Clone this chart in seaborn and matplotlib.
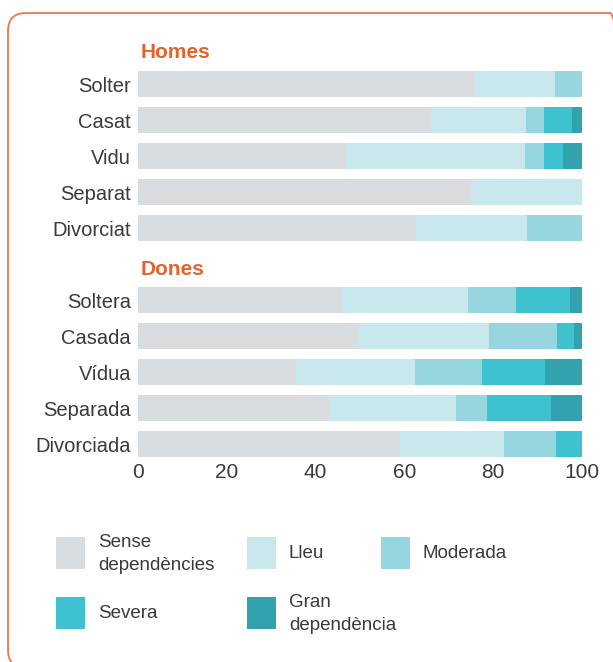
import numpy as np
import pandas as pd
import matplotlib
matplotlib.use("Agg")
import matplotlib.pyplot as plt
from matplotlib.patches import FancyBboxPatch, Rectangle
from matplotlib.transforms import IdentityTransform
import seaborn as sns

# ─── Data (percentages) ──────────────────────────────────────────────────────
homes = ["Solter", "Casat", "Vidu", "Separat", "Divorciat"]
dones = ["Soltera", "Casada", "Vídua", "Separada", "Divorciada"]
estats = homes + dones

sense    = [75.9, 66.0, 46.8, 75.0, 62.6, 45.9, 49.5, 35.6, 43.0, 59.0]
lleu     = [18.0, 21.4, 40.4, 25.0, 25.0, 28.4, 29.6, 26.8, 28.6, 23.4]
moderada = [6.1, 4.0, 4.2, 0.0, 12.4, 10.8, 15.3, 15.1, 7.0, 11.7]
severa   = [0.0, 6.3, 4.3, 0.0, 0.0, 12.2, 3.8, 14.2, 14.4, 5.9]
gran     = [0.0, 2.3, 4.3, 0.0, 0.0, 2.7, 1.8, 8.3, 7.0, 0.0]

nivells = ["Sense\ndependències", "Lleu", "Moderada", "Severa", "Gran\ndependència"]
colors  = ["#d9dde0", "#c9e8ed", "#97d6df", "#3ec2cf", "#32a3ae"]
xticks  = [0, 20, 40, 60, 80, 100]

TEXT   = "#3a3a3a"
ORANGE = "#e4632b"
W, H = 613, 662

# ─── Style ────────────────────────────────────────────────────────────────────
sns.set_style("white")
plt.rcParams["font.family"] = ["Liberation Sans", "DejaVu Sans"]

df = pd.DataFrame({"estat": estats, "sense": sense, "lleu": lleu,
                   "moderada": moderada, "severa": severa, "gran": gran})
cols = ["sense", "lleu", "moderada", "severa", "gran"]
cum = df[cols].cumsum(axis=1)

order = homes + [" "] + dones   # blank slot separates the two groups

fig = plt.figure(figsize=(W / 100, H / 100), dpi=100)

def fx(x):
    return x / W

def fy(y):
    return 1 - y / H

ax = fig.add_axes([fx(138), fy(462), fx(582) - fx(138), (462 - 66) / H])

# stacked bars: draw the cumulative totals from the longest down
for col, c in zip(reversed(cols), reversed(colors)):
    sns.barplot(x=cum[col], y=df["estat"], order=order, color=c,
                width=0.72, orient="h", ax=ax, saturation=1, linewidth=0)

ax.set_xlim(0, 100)
ax.set_xticks(xticks)
ax.set_xlabel("")
ax.set_ylabel("")
sns.despine(ax=ax, left=True, bottom=True)
ax.tick_params(axis="y", length=0, labelsize=14.5, colors=TEXT, pad=5)
ax.tick_params(axis="x", length=0, labelsize=15, colors=TEXT, pad=1)

ax.text(0.6, -0.88, "Homes", color=ORANGE, fontsize=15, fontweight="bold",
        ha="left", va="center")
ax.text(0.6, 5.15, "Dones", color=ORANGE, fontsize=15, fontweight="bold",
        ha="left", va="center")

# ─── Legend (placed by hand, as in the reference) ────────────────────────────
leg_pos = [(56, 537, 98), (247, 537, 289), (381, 537, 423),
           (56, 597, 98), (247, 597, 289)]
for (px, py, tx), lab, c in zip(leg_pos, nivells, colors):
    fig.add_artist(Rectangle((fx(px), fy(py + 32)), 29 / W, 32 / H,
                             transform=fig.transFigure, facecolor=c,
                             edgecolor="none"))
    fig.text(fx(tx), fy(py + 17), lab, fontsize=13.5, color=TEXT,
             ha="left", va="center", linespacing=1.5)

# ─── Orange rounded frame ────────────────────────────────────────────────────
frame = FancyBboxPatch((8, -6), 620, H - 13 + 6, transform=IdentityTransform(),
                       boxstyle="round,pad=0,rounding_size=18",
                       facecolor="none", edgecolor="#e8784a", linewidth=1.3)
fig.add_artist(frame)

fig.savefig("out.png", dpi=100)
